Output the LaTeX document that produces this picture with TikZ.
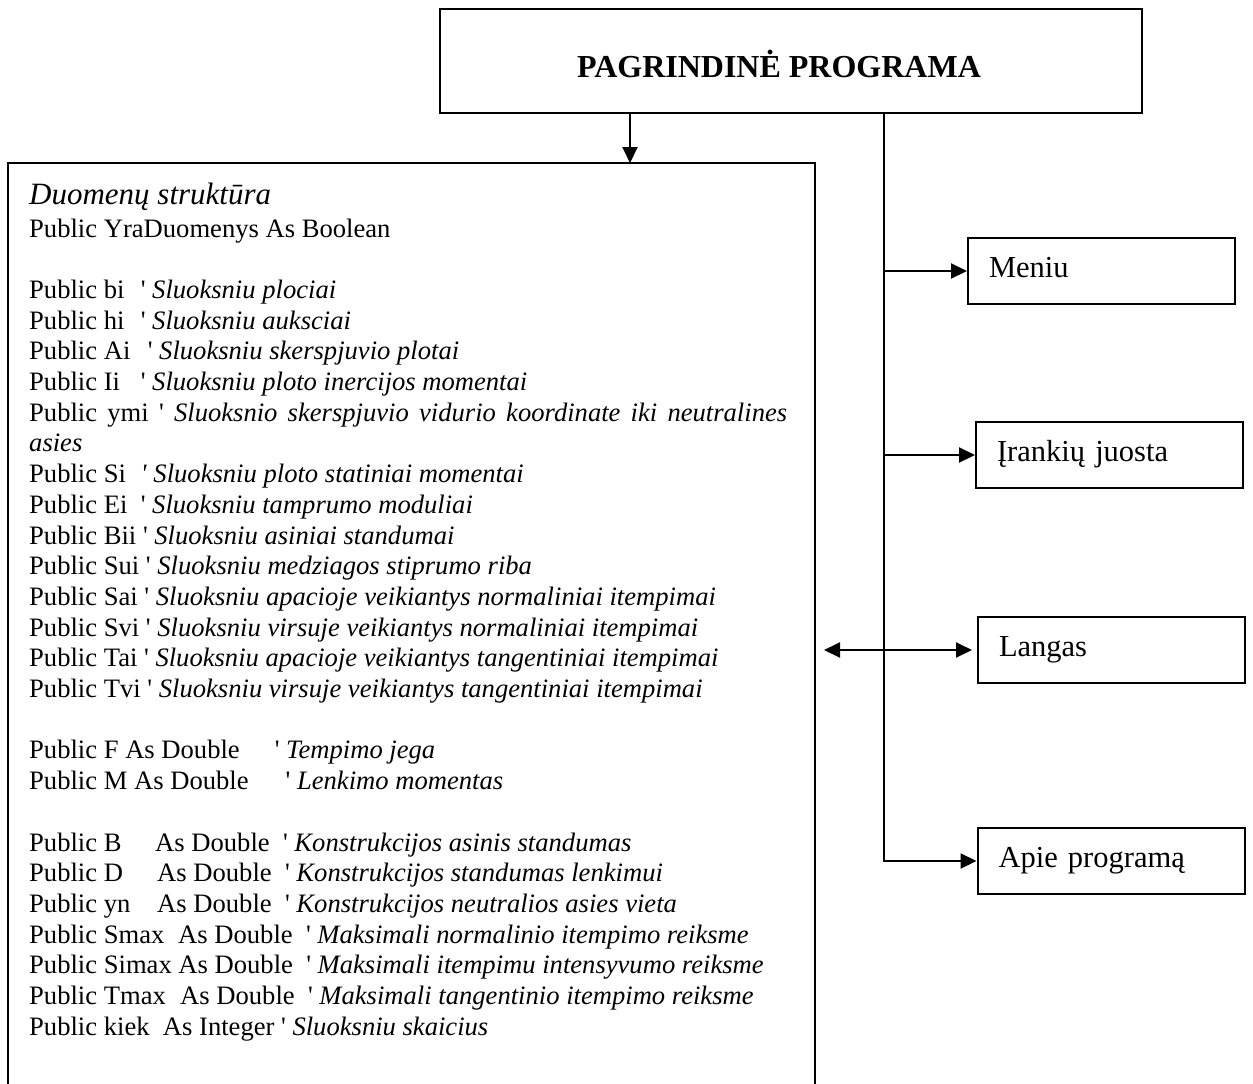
\documentclass[tikz,border=0pt]{standalone}
\usepackage{fontspec}
\setmainfont{Liberation Serif}[Ligatures=TeXOff]
\usetikzlibrary{arrows.meta}
\newcommand\ap{'}
\begin{document}
\begin{tikzpicture}[x=1pt,y=-1pt,
  ln/.style={line width=2pt},
  arr/.style={ln,-{Triangle[length=16pt,width=15pt]}},
  arrb/.style={ln,{Triangle[length=16pt,width=15pt]}-{Triangle[length=16pt,width=15pt]}},
  rbox/.style={draw,ln,minimum width=267pt,minimum height=66pt,inner xsep=21pt,inner ysep=0pt,
    text width=225pt,align=left,text height=20pt,text depth=6.6pt,font=\fontsize{30.5}{36}\selectfont},
  txt/.style={anchor=base west,inner sep=0pt,font=\fontsize{26.6}{30.7}\selectfont}]
\useasboundingbox (0,0) rectangle (1253,1084);
% main box
\node[draw,ln,minimum width=702pt,minimum height=104pt,inner sep=0pt] (main) at (791,61) {};
\node[anchor=base,inner sep=0pt,font=\fontsize{32}{38}\selectfont\bfseries] (maint) at (779,77) {PAGRINDINĖ PROGRAMA};
% data structure box (open at the bottom, beyond the page)
\node[draw,ln,minimum width=807pt,minimum height=934pt,inner sep=0pt] (ds) at (411.5,630) {};
\coordinate (dstop) at (630,163);
\draw[arr] (main.south -| dstop) -- (dstop);
% right boxes
\node[rbox] (meniu) at (1101.5,271) {Meniu};
\node[rbox] (irank) at (1109.5,455) {Įrankių juosta};
\node[rbox] (langas) at (1111.5,650) {Langas};
\node[rbox] (apie) at (1111,861) {Apie programą};
% trunk and connectors
\coordinate (trunktop) at (884,113);
\draw[arr] (trunktop) |- (apie.west);
\draw[arr] (trunktop |- meniu.west) -- (meniu.west);
\draw[arr] (trunktop |- irank.west) -- (irank.west);
\draw[arrb,shorten <=8pt,shorten >=5pt] (ds.east |- langas.west) -- (langas.west);
% texts
\node[anchor=base west,inner sep=0pt,font=\fontsize{31}{36}\selectfont\itshape] (title) at (29,204) {Duomenų struktūra};
\node[txt] (t0) at (29,237) {Public YraDuomenys As Boolean};
\node[txt] (t2) at (29,298.4) {\makebox[111.6pt][l]{Public bi}\ap\ \textit{Sluoksniu plociai}};
\node[txt] (t3) at (29,329.1) {\makebox[111.6pt][l]{Public hi}\ap\ \textit{Sluoksniu auksciai}};
\node[txt] (t4) at (29,359.8) {\makebox[118.6pt][l]{Public Ai}\ap\ \textit{Sluoksniu skerspjuvio plotai}};
\node[txt] (t5) at (29,390.5) {\makebox[111.6pt][l]{Public Ii}\ap\ \textit{Sluoksniu ploto inercijos momentai}};
\node[txt] (t6) at (29,421.2) {\makebox[758pt][s]{Public ymi \ap\ \textit{Sluoksnio skerspjuvio vidurio koordinate iki neutralines}}};
\node[txt] (t7) at (29,451.9) {\textit{asies}};
\node[txt] (t8) at (29,482.6) {\makebox[111.6pt][l]{Public Si}\textit{\ap}\ \textit{Sluoksniu ploto statiniai momentai}};
\node[txt] (t9) at (29,513.3) {\makebox[111.6pt][l]{Public Ei}\ap\ \textit{Sluoksniu tamprumo moduliai}};
\node[txt] (t10) at (29,544) {Public Bii \ap\ \textit{Sluoksniu asiniai standumai}};
\node[txt] (t11) at (29,574.7) {Public Sui \ap\ \textit{Sluoksniu medziagos stiprumo riba}};
\node[txt] (t12) at (29,605.4) {Public Sai \ap\ \textit{Sluoksniu apacioje veikiantys normaliniai itempimai}};
\node[txt] (t13) at (29,636.1) {Public Svi \ap\ \textit{Sluoksniu virsuje veikiantys normaliniai itempimai}};
\node[txt] (t14) at (29,666.8) {Public Tai \ap\ \textit{Sluoksniu apacioje veikiantys tangentiniai itempimai}};
\node[txt] (t15) at (29,697.5) {Public Tvi \ap\ \textit{Sluoksniu virsuje veikiantys tangentiniai itempimai}};
\node[txt] (t17) at (29,758.9) {Public F As Double\hspace{35pt}\ap\ \textit{Tempimo jega}};
\node[txt] (t18) at (29,789.6) {Public M As Double\hspace{37pt}\ap\ \textit{Lenkimo momentas}};
\node[txt] (t20) at (29,851) {\makebox[126pt][l]{Public B}As Double\ \ \ap\ \textit{Konstrukcijos asinis standumas}};
\node[txt] (t21) at (29,881.7) {\makebox[128pt][l]{Public D}As Double\ \ \ap\ \textit{Konstrukcijos standumas lenkimui}};
\node[txt] (t22) at (29,912.4) {\makebox[128pt][l]{Public yn}As Double\ \ \ap\ \textit{Konstrukcijos neutralios asies vieta}};
\node[txt] (t23) at (29,943.1) {\makebox[149pt][l]{Public Smax}As Double\ \ \ap\ \textit{Maksimali normalinio itempimo reiksme}};
\node[txt] (t24) at (29,973.8) {Public Simax As Double\ \ \ap\ \textit{Maksimali itempimu intensyvumo reiksme}};
\node[txt] (t25) at (29,1004.5) {\makebox[151pt][l]{Public Tmax}As Double\ \ \ap\ \textit{Maksimali tangentinio itempimo reiksme}};
\node[txt] (t26) at (29,1035.2) {Public kiek\ \ As Integer \ap\ \textit{Sluoksniu skaicius}};
\end{tikzpicture}
\end{document}
